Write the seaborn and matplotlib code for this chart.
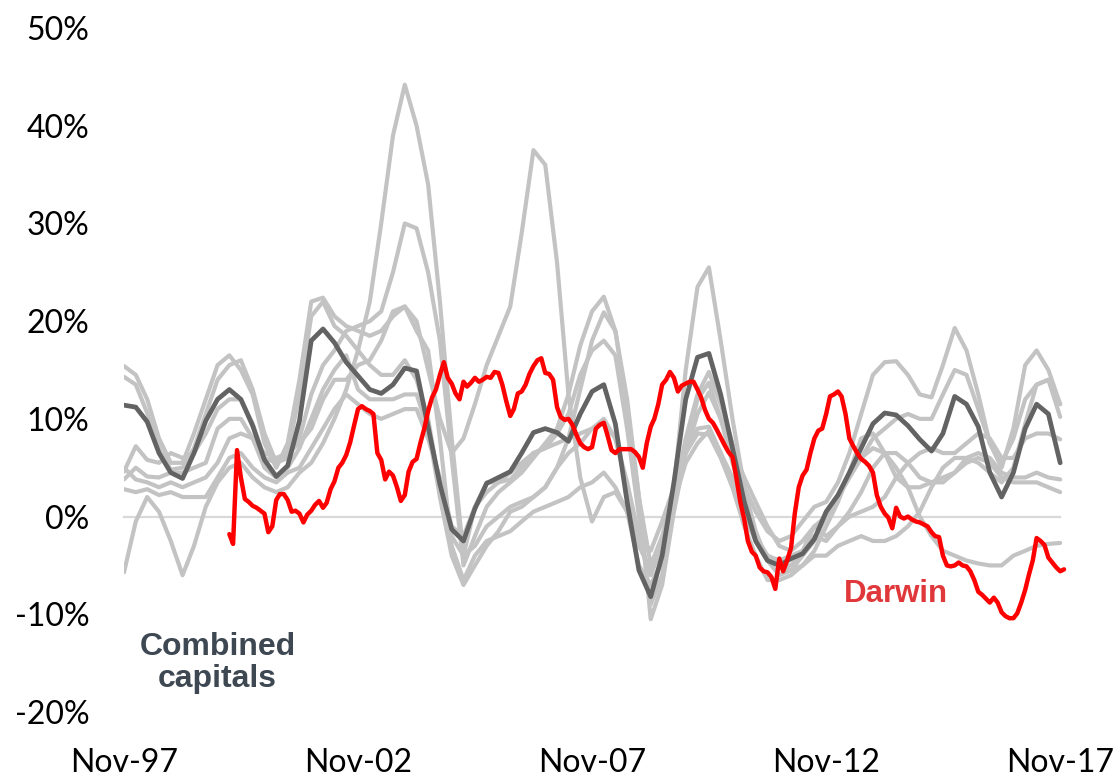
import pandas as pd
import matplotlib
matplotlib.use("Agg")
import matplotlib.pyplot as plt
from matplotlib.ticker import FixedLocator, FuncFormatter
import matplotlib.dates as mdates
import seaborn as sns

# ---- axis labels ---------------------------------------------------------
tick_labels = ["Nov-97", "Nov-02", "Nov-07", "Nov-12", "Nov-17"]
tick_dates = ["1997-11-01", "2002-11-01", "2007-11-01", "2012-11-01", "2017-11-01"]
y_ticks = [-20, -10, 0, 10, 20, 30, 40, 50]

# ---- annual change in dwelling values, % (quarterly from Nov-97) ---------
sydney = [15.4, 14.5, 12.0, 8.0, 5.5, 5.5, 8.5, 12.0, 15.5, 16.5,
          15.0, 12.5, 7.5, 5.0, 7.5, 14.0, 22.0, 22.4, 20.5, 19.5,
          19.0, 18.5, 19.0, 20.5, 21.5, 19.0, 17.0, 8.0, -3.0, -6.5,
          -4.0, -2.5, -2.0, -1.5, -0.5, 0.5, 1.0, 1.5, 2.0, 3.0,
          3.5, 4.5, 3.0, 0.5, -3.0, -5.5, -3.0, 2.0, 8.0, 12.5,
          14.8, 11.5, 7.5, 3.0, 0.5, -1.5, -2.5, -2.0, -0.5, 1.0,
          1.5, 3.5, 6.5, 10.5, 14.5, 15.8, 15.9, 14.5, 12.5, 12.2,
          15.5, 19.3, 17.0, 12.5, 7.5, 5.0, 9.0, 15.5, 17.0, 15.0, 11.5]
melbourne = [14.3, 13.5, 10.6, 7.0, 4.8, 5.0, 7.0, 10.5, 14.0, 15.5,
             16.0, 13.0, 8.5, 5.5, 6.5, 12.5, 20.5, 22.0, 19.5, 18.5,
             17.0, 15.5, 14.5, 14.5, 16.0, 14.0, 10.0, 3.0, -2.0, -4.0,
             1.0, 3.5, 3.5, 3.8, 5.0, 6.5, 7.0, 8.5, 10.5, 14.5,
             17.0, 18.0, 16.5, 9.0, 0.0, -9.0, -6.0, 3.0, 15.0, 23.5,
             25.5, 18.0, 10.0, 3.0, -1.5, -4.5, -6.0, -5.5, -4.0, -2.5,
             0.0, 2.0, 4.0, 6.0, 8.0, 9.0, 10.0, 10.5, 10.0, 10.0,
             12.5, 15.0, 14.5, 11.0, 7.5, 5.5, 8.0, 12.0, 13.5, 14.0, 10.2]
brisbane = [4.6, 7.2, 5.8, 5.5, 6.5, 6.0, 6.5, 8.5, 11.0, 12.0,
            12.0, 9.5, 6.0, 5.5, 6.0, 8.0, 12.5, 15.5, 17.0, 19.0,
            19.5, 20.0, 21.0, 25.0, 30.0, 29.5, 25.0, 18.0, 6.0, -5.0,
            -2.0, 1.0, 2.5, 3.5, 4.5, 6.0, 7.5, 9.0, 12.5, 17.5,
            21.0, 22.5, 19.0, 12.0, 2.0, -10.5, -7.0, 0.5, 6.5, 9.0,
            9.2, 6.5, 3.0, -1.0, -4.0, -6.5, -6.5, -6.0, -5.0, -3.5,
            -1.0, 1.5, 4.5, 8.0, 8.5, 6.5, 4.0, 3.0, 3.0, 3.5,
            4.0, 4.5, 5.5, 6.0, 5.5, 4.0, 3.5, 3.5, 3.5, 3.0, 2.5]
adelaide = [3.8, 5.0, 4.1, 4.0, 4.5, 4.5, 5.0, 5.5, 9.0, 10.0,
            10.0, 8.0, 5.0, 4.0, 5.0, 7.0, 10.0, 13.0, 15.0, 16.5,
            13.0, 12.0, 12.0, 12.0, 12.5, 12.5, 9.0, 2.0, -4.0, -7.0,
            -5.0, -3.0, -1.5, 0.5, 1.0, 2.0, 3.0, 5.0, 8.0, 13.0,
            18.0, 20.9, 19.0, 11.0, 2.0, -5.0, -2.0, 2.5, 6.5, 8.5,
            8.4, 6.0, 3.0, 0.0, -2.5, -4.0, -4.5, -4.0, -3.5, -2.0,
            -2.5, -1.0, 0.5, 2.5, 5.0, 6.5, 6.5, 5.5, 4.0, 3.5,
            3.5, 4.5, 6.0, 6.5, 6.0, 4.5, 4.0, 4.0, 4.5, 4.0, 3.8]
perth = [5.0, 3.8, 3.5, 3.0, 3.5, 3.0, 3.5, 4.0, 5.5, 8.0,
         8.5, 8.0, 6.5, 6.0, 6.5, 7.5, 9.0, 12.0, 14.0, 14.0,
         15.5, 16.0, 18.0, 21.0, 21.5, 20.0, 15.0, 10.0, 6.5, 8.0,
         11.5, 15.5, 18.5, 21.5, 29.0, 37.5, 36.0, 26.0, 12.5, 4.0,
         -0.5, 2.0, 2.5, 0.5, -5.0, -7.0, -4.5, 1.0, 7.0, 12.0,
         13.7, 10.0, 5.5, 1.5, -2.5, -4.5, -5.0, -5.0, -3.5, -1.0,
         0.0, 2.0, 4.0, 6.0, 7.0, 6.5, 5.0, 3.0, 0.0, -2.0,
         -3.5, -4.0, -4.5, -4.8, -5.0, -5.0, -4.0, -3.5, -3.0, -2.8, -2.7]
canberra = [2.8, 2.5, 2.8, 2.2, 2.5, 2.0, 2.0, 2.0, 4.0, 6.0,
            6.5, 5.0, 4.0, 3.5, 4.5, 5.0, 7.0, 9.0, 11.0, 12.5,
            11.5, 10.5, 10.0, 10.5, 11.0, 11.0, 8.0, 4.0, -1.0, -2.0,
            1.0, 2.5, 3.5, 4.5, 5.5, 6.5, 7.0, 7.5, 8.0, 8.5,
            9.0, 9.5, 8.0, 3.5, -2.0, -3.5, -0.5, 3.0, 6.5, 10.5,
            12.7, 10.0, 7.0, 4.0, 1.5, -1.0, -3.0, -3.5, -2.5, -1.0,
            -2.0, -1.0, 0.0, 0.5, 1.0, 2.0, 4.0, 5.5, 6.5, 7.0,
            6.5, 6.5, 7.5, 8.5, 8.0, 6.0, 6.0, 8.0, 8.5, 8.5, 7.9]
hobart = [-5.7, -0.5, 2.0, 0.5, -2.5, -6.0, -3.0, 1.0, 3.5, 5.0,
          5.5, 4.0, 3.0, 2.5, 3.0, 4.5, 5.5, 7.5, 10.0, 13.0,
          17.0, 22.0, 30.0, 39.0, 44.2, 40.0, 34.0, 22.0, 8.0, -4.0,
          -3.0, -1.0, 0.0, 1.0, 1.5, 2.0, 3.0, 5.0, 6.5, 7.5,
          9.0, 10.0, 8.0, 3.0, -2.5, -6.0, -3.0, 1.5, 5.5, 7.5,
          8.8, 6.5, 4.0, 1.0, -2.0, -4.0, -5.0, -5.5, -5.0, -4.0,
          -4.0, -3.0, -2.5, -2.0, -2.5, -2.5, -2.0, -1.0, 0.5, 3.0,
          5.0, 6.0, 6.0, 5.5, 4.5, 3.5, 5.0, 9.5, 13.5, 14.0, 11.5]
combined = [11.4, 11.2, 9.7, 6.5, 4.5, 3.9, 6.5, 9.8, 12.0, 13.0,
            12.0, 9.3, 5.8, 4.1, 5.2, 9.8, 18.0, 19.2, 17.8, 15.8,
            14.4, 13.0, 12.6, 13.5, 15.2, 14.9, 9.2, 3.3, -1.3, -2.5,
            0.8, 3.4, 4.0, 4.6, 6.5, 8.6, 9.0, 8.6, 7.7, 10.5,
            12.8, 13.5, 9.5, 1.5, -5.5, -8.2, -4.0, 3.5, 12.0, 16.3,
            16.7, 12.5, 7.0, 1.5, -2.5, -4.5, -5.0, -4.3, -3.8, -2.3,
            0.5, 2.2, 4.5, 7.0, 9.5, 10.6, 10.4, 9.3, 7.9, 6.7,
            8.5, 12.3, 11.5, 9.2, 4.5, 2.0, 4.5, 9.0, 11.5, 10.5, 5.5]

# ---- Darwin, monthly from Feb-00 -----------------------------------------
darwin = [-1.8, -2.8, 6.8, 4.0, 1.8, 1.5, 1.1, 0.9, 0.6, 0.3,
          -1.6, -1.0, 1.7, 2.3, 2.3, 1.7, 0.5, 0.6, 0.3, -0.6,
          0.2, 0.6, 1.2, 1.6, 0.9, 1.4, 2.8, 3.6, 5.0, 5.5,
          6.3, 7.6, 9.3, 11.0, 11.3, 11.0, 10.8, 10.5, 6.5, 5.8,
          3.8, 4.6, 4.2, 3.0, 1.6, 2.2, 4.6, 5.6, 5.9, 7.5,
          9.0, 10.8, 12.2, 13.0, 14.5, 15.8, 14.2, 13.6, 12.6, 12.0,
          13.8, 13.3, 13.7, 14.2, 13.8, 14.0, 14.3, 14.2, 14.8, 14.7,
          13.5, 11.8, 10.3, 11.0, 12.6, 12.8, 13.5, 14.6, 15.4, 16.0,
          16.2, 14.7, 14.6, 14.0, 11.2, 10.2, 9.9, 10.0, 9.4, 8.4,
          7.5, 7.1, 6.9, 7.1, 9.0, 9.4, 9.6, 8.3, 6.8, 6.5,
          6.9, 6.9, 6.9, 6.9, 6.6, 6.1, 5.0, 7.5, 9.2, 10.0,
          11.5, 13.5, 14.0, 14.8, 14.2, 12.8, 13.4, 13.6, 13.8, 13.8,
          13.0, 12.2, 10.9, 10.0, 9.6, 8.9, 8.1, 7.3, 6.6, 6.1,
          4.0, 1.5, -0.3, -2.5, -3.6, -4.0, -5.2, -5.6, -5.7, -6.2,
          -7.4, -4.3, -5.6, -4.5, -3.2, 0.3, 3.0, 4.2, 4.8, 6.5,
          8.0, 8.8, 9.0, 10.5, 12.3, 12.5, 12.8, 12.3, 10.5, 8.0,
          7.2, 6.5, 5.9, 5.6, 5.2, 4.5, 2.2, 1.0, 0.3, -0.1,
          -1.2, 0.9, 0.0, -0.2, 0.0, -0.3, -0.5, -0.6, -0.8, -1.0,
          -1.6, -2.0, -2.1, -4.0, -5.0, -5.1, -5.0, -4.7, -5.0, -5.1,
          -5.6, -6.5, -7.7, -8.0, -8.4, -8.8, -8.3, -8.8, -9.8, -10.2,
          -10.4, -10.4, -9.9, -8.8, -7.5, -6.0, -4.5, -2.2, -2.5, -2.9,
          -4.2, -4.7, -5.2, -5.6, -5.4]

quarters = pd.date_range("1997-11-01", periods=len(combined), freq="3MS")
months_darwin = pd.date_range("2000-02-01", periods=len(darwin), freq="MS")

others = {"Sydney": sydney, "Melbourne": melbourne, "Brisbane": brisbane,
          "Adelaide": adelaide, "Perth": perth, "Canberra": canberra,
          "Hobart": hobart}
gray_df = pd.concat(
    [pd.DataFrame({"date": quarters, "change": v, "city": k}) for k, v in others.items()],
    ignore_index=True)
comb_df = pd.DataFrame({"date": quarters, "change": combined})
darwin_df = pd.DataFrame({"date": months_darwin, "change": darwin})

# ---- styling -------------------------------------------------------------
sns.set_theme(style="white")
plt.rcParams["font.family"] = ["Lato", "DejaVu Sans"]
plt.rcParams["axes.unicode_minus"] = False

W, H = 1120, 779
fig = plt.figure(figsize=(W / 100, H / 100), dpi=100)
left_px, right_px, top_px, bottom_px = 124, 1068, 28, 712
ax = fig.add_axes([left_px / W, (H - bottom_px) / H,
                   (right_px - left_px) / W, (bottom_px - top_px) / H])

sns.lineplot(data=gray_df, x="date", y="change", units="city", estimator=None,
             color="#c3c3c3", linewidth=3.0, ax=ax, legend=False)
sns.lineplot(data=comb_df, x="date", y="change", color="#636363",
             linewidth=3.4, ax=ax, legend=False)
sns.lineplot(data=darwin_df, x="date", y="change", color="#ff0000",
             linewidth=3.2, ax=ax, legend=False)
for ln in ax.get_lines():
    ln.set_solid_joinstyle("round")
    ln.set_solid_capstyle("round")

x0 = pd.Timestamp("1997-11-01")
x1 = pd.Timestamp("2018-01-01")
ax.set_xlim(x0, x1)
ax.set_ylim(-20, 50)

# y axis: percentage labels, no line
ax.yaxis.set_major_locator(FixedLocator(y_ticks))
ax.yaxis.set_major_formatter(FuncFormatter(lambda v, p: f"{int(v)}%"))
ax.tick_params(axis="y", length=0, pad=25, labelsize=23, labelcolor="#000000")

# x axis: sits on the zero line, labels placed below the plot
tick_nums = mdates.date2num(pd.to_datetime(tick_dates))
ax.xaxis.set_major_locator(FixedLocator(tick_nums))
ax.tick_params(axis="x", direction="out", length=7, width=1.5,
               color="#d9d9d9", labelbottom=False)
for side in ("left", "right", "top"):
    ax.spines[side].set_visible(False)
ax.spines["bottom"].set_position(("data", 0))
ax.spines["bottom"].set_color("#d9d9d9")
ax.spines["bottom"].set_linewidth(1.6)
ax.spines["bottom"].set_bounds(tick_nums[0], tick_nums[-1])
ax.spines["bottom"].set_zorder(0.5)
ax.set_xlabel("")
ax.set_ylabel("")

label_y = (bottom_px - 763) / (bottom_px - top_px)
for num, lab in zip(tick_nums, tick_labels):
    ax.text(num, label_y, lab, transform=ax.get_xaxis_transform(),
            ha="center", va="center", fontsize=23, color="#000000", clip_on=False)

ax.text(mdates.date2num(pd.Timestamp("1999-11-01")), -15.0, "Combined\ncapitals",
        ha="center", va="center", fontsize=23, fontweight="bold",
        family=["Liberation Sans", "DejaVu Sans"], color="#3e4852",
        linespacing=1.1)
ax.text(mdates.date2num(pd.Timestamp("2014-05-01")), -7.9, "Darwin",
        ha="center", va="center", fontsize=22.5, fontweight="bold",
        family=["Liberation Sans", "DejaVu Sans"], color="#e0383a")

fig.savefig("out.png", dpi=100)
